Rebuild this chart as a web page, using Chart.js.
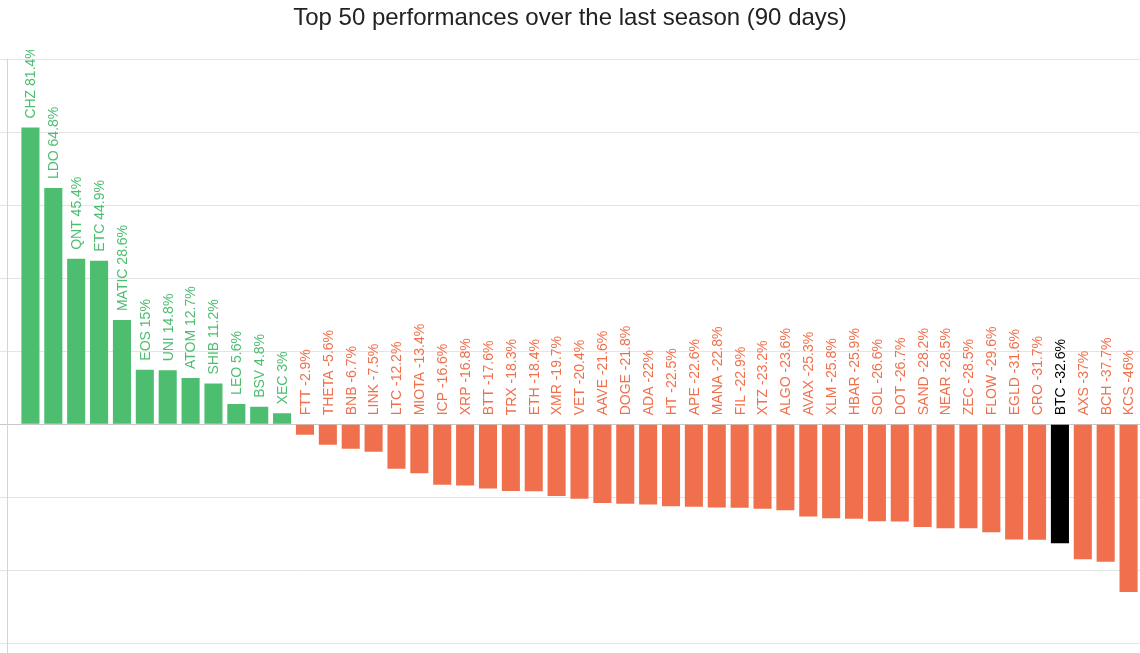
<!DOCTYPE html>
<html>
<head>
<meta charset="utf-8">
<script src="https://cdn.jsdelivr.net/npm/chart.js@4/dist/chart.umd.min.js"></script>
<style>
  html, body { margin: 0; padding: 0; background: #ffffff; }
  #wrap { width: 1140px; height: 653px; position: relative; }
</style>
</head>
<body>
<div id="wrap"><canvas id="c" width="1140" height="653"></canvas></div>
<script>
const titleText = 'Top 50 performances over the last season (90 days)';
const symbols = ['CHZ','LDO','QNT','ETC','MATIC','EOS','UNI','ATOM','SHIB','LEO','BSV','XEC',
  'FTT','THETA','BNB','LINK','LTC','MIOTA','ICP','XRP','BTT','TRX','ETH','XMR','VET','AAVE',
  'DOGE','ADA','HT','APE','MANA','FIL','XTZ','ALGO','AVAX','XLM','HBAR','SOL','DOT','SAND',
  'NEAR','ZEC','FLOW','EGLD','CRO','BTC','AXS','BCH','KCS'];
const performance = [81.4, 64.8, 45.4, 44.9, 28.6, 15, 14.8, 12.7, 11.2, 5.6, 4.8, 3,
  -2.9, -5.6, -6.7, -7.5, -12.2, -13.4, -16.6, -16.8, -17.6, -18.3, -18.4, -19.7, -20.4, -21.6,
  -21.8, -22, -22.5, -22.6, -22.8, -22.9, -23.2, -23.6, -25.3, -25.8, -25.9, -26.6, -26.7, -28.2,
  -28.5, -28.5, -29.6, -31.6, -31.7, -32.6, -37, -37.7, -46];
const highlighted = 'BTC';
const yTicks = [-60, -40, -20, 0, 20, 40, 60, 80, 100];

const GREEN = '#4dbd70';
const RED = '#f0704d';
const BLACK = '#000000';
function colorFor(i) {
  if (symbols[i] === highlighted) return BLACK;
  return performance[i] >= 0 ? GREEN : RED;
}
const barColors = symbols.map((s, i) => colorFor(i));

const labelPlugin = {
  id: 'barLabels',
  afterDatasetsDraw(chart) {
    const ctx = chart.ctx;
    const meta = chart.getDatasetMeta(0);
    const y0 = chart.scales.y.getPixelForValue(0);
    ctx.save();
    ctx.beginPath();
    ctx.rect(0, 50, chart.width, chart.height - 50);
    ctx.clip();
    ctx.font = '14px "Liberation Sans", Arial, sans-serif';
    ctx.textAlign = 'left';
    ctx.textBaseline = 'middle';
    meta.data.forEach((bar, i) => {
      const v = performance[i];
      const text = symbols[i] + ' ' + v + '%';
      const startY = (v >= 0 ? bar.y : y0) - 9;
      ctx.save();
      ctx.translate(bar.x + 1, startY);
      ctx.rotate(-Math.PI / 2);
      ctx.fillStyle = colorFor(i);
      ctx.fillText(text, 0, 0);
      ctx.restore();
    });
    ctx.restore();
  }
};

const axisLinePlugin = {
  id: 'axisLine',
  afterDraw(chart) {
    const ctx = chart.ctx;
    const a = chart.chartArea;
    const x = 7.5;
    ctx.save();
    ctx.strokeStyle = '#d4d4d4';
    ctx.lineWidth = 1;
    ctx.beginPath();
    ctx.moveTo(x, a.top - 1);
    ctx.lineTo(x, chart.height);
    ctx.stroke();
    ctx.restore();
  }
};

new Chart(document.getElementById('c'), {
  type: 'bar',
  data: {
    labels: symbols,
    datasets: [{
      data: performance,
      backgroundColor: barColors,
      borderWidth: 0,
      categoryPercentage: 1.0,
      barPercentage: 0.79
    }]
  },
  options: {
    responsive: false,
    animation: false,
    devicePixelRatio: 1,
    layout: { padding: { top: 0, right: 0, bottom: 10, left: 0 } },
    plugins: {
      legend: { display: false },
      tooltip: { enabled: false },
      title: {
        display: true,
        text: titleText,
        color: '#222222',
        font: { family: '"Liberation Sans", Arial, sans-serif', size: 24, weight: 'normal' },
        padding: { top: 4, bottom: 27 }
      }
    },
    scales: {
      x: {
        display: true,
        offset: true,
        grid: { display: false, drawTicks: false },
        border: { display: false },
        ticks: { display: false }
      },
      y: {
        min: -60,
        max: 100,
        afterBuildTicks(scale) { scale.ticks = yTicks.map(v => ({ value: v })); },
        afterFit(scale) { scale.width = 19; },
        grid: {
          color: (c) => c.tick && c.tick.value === 0 ? '#c8c8c8' : '#e4e4e4',
          lineWidth: 1,
          tickLength: 19,
          drawTicks: true
        },
        border: { display: false },
        ticks: { display: false }
      }
    }
  },
  plugins: [labelPlugin, axisLinePlugin]
});
</script>
</body>
</html>
